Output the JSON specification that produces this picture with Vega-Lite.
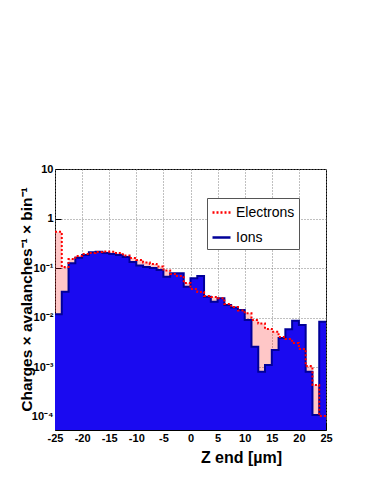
{
  "$schema": "https://vega.github.io/schema/vega-lite/v6.json",
  "width": 271,
  "height": 261,
  "autosize": "none",
  "padding": {"left": 55, "top": 169, "right": 48, "bottom": 54},
  "background": "white",
  "config": {
    "view": {"stroke": "black", "strokeWidth": 1},
    "font": "Liberation Sans"
  },
  "data": {
    "values": [
      {"z": -25, "Ions": 0.0117, "Electrons": 0.542},
      {"z": -23.75, "Ions": 0.0334, "Electrons": 0.105},
      {"z": -22.5, "Ions": 0.125, "Electrons": 0.152},
      {"z": -21.25, "Ions": 0.162, "Electrons": 0.175},
      {"z": -20, "Ions": 0.184, "Electrons": 0.192},
      {"z": -18.75, "Ions": 0.208, "Electrons": 0.201},
      {"z": -17.5, "Ions": 0.214, "Electrons": 0.211},
      {"z": -16.25, "Ions": 0.201, "Electrons": 0.215},
      {"z": -15, "Ions": 0.192, "Electrons": 0.214},
      {"z": -13.75, "Ions": 0.184, "Electrons": 0.201},
      {"z": -12.5, "Ions": 0.167, "Electrons": 0.18},
      {"z": -11.25, "Ions": 0.133, "Electrons": 0.16},
      {"z": -10, "Ions": 0.113, "Electrons": 0.146},
      {"z": -8.75, "Ions": 0.105, "Electrons": 0.13},
      {"z": -7.5, "Ions": 0.1, "Electrons": 0.121},
      {"z": -6.25, "Ions": 0.0914, "Electrons": 0.108},
      {"z": -5, "Ions": 0.067, "Electrons": 0.0894},
      {"z": -3.75, "Ions": 0.0785, "Electrons": 0.0759},
      {"z": -2.5, "Ions": 0.0785, "Electrons": 0.069},
      {"z": -1.25, "Ions": 0.0421, "Electrons": 0.05},
      {"z": 0, "Ions": 0.0622, "Electrons": 0.0378},
      {"z": 1.25, "Ions": 0.0692, "Electrons": 0.0329},
      {"z": 2.5, "Ions": 0.0264, "Electrons": 0.0273},
      {"z": 3.75, "Ions": 0.021, "Electrons": 0.026},
      {"z": 5, "Ions": 0.0245, "Electrons": 0.0245},
      {"z": 6.25, "Ions": 0.018, "Electrons": 0.0188},
      {"z": 7.5, "Ions": 0.0161, "Electrons": 0.0164},
      {"z": 8.75, "Ions": 0.01425, "Electrons": 0.014},
      {"z": 10, "Ions": 0.00895, "Electrons": 0.0122},
      {"z": 11.25, "Ions": 0.00259, "Electrons": 0.00895},
      {"z": 12.5, "Ions": 0.00081, "Electrons": 0.0076},
      {"z": 13.75, "Ions": 0.00111, "Electrons": 0.0059},
      {"z": 15, "Ions": 0.00222, "Electrons": 0.0052},
      {"z": 16.25, "Ions": 0.00388, "Electrons": 0.00406},
      {"z": 17.5, "Ions": 0.0058, "Electrons": 0.0037},
      {"z": 18.75, "Ions": 0.00867, "Electrons": 0.00308},
      {"z": 20, "Ions": 0.0071, "Electrons": 0.00233},
      {"z": 21.25, "Ions": 0.00081, "Electrons": 0.00105},
      {"z": 22.5, "Ions": 0.000108, "Electrons": 0.000437},
      {"z": 23.75, "Ions": 0.00828, "Electrons": 0.000103},
      {"z": 25, "Ions": 0.00828, "Electrons": 0.000103}
    ]
  },
  "transform": [{"fold": ["Ions", "Electrons"], "as": ["series", "v"]}],
  "encoding": {
    "x": {
      "field": "z",
      "type": "quantitative",
      "scale": {"domain": [-25, 25], "nice": false, "zero": false},
      "axis": {
        "values": [-25, -20, -15, -10, -5, 0, 5, 10, 15, 20, 25],
        "labelExpr": "'' + datum.value",
        "labelFlush": false,
        "labelOverlap": false,
        "labelFont": "Liberation Sans",
        "labelFontWeight": "bold",
        "labelFontSize": 11,
        "labelColor": "black",
        "labelPadding": 9,
        "tickSize": -7,
        "tickColor": "black",
        "domain": false,
        "grid": true,
        "gridColor": "#808080",
        "gridDash": [1, 2],
        "title": "Z end [µm]",
        "titleFont": "Liberation Sans",
        "titleFontSize": 16,
        "titleFontWeight": "bold",
        "titleColor": "black",
        "titleX": 186,
        "titleY": 27,
        "titleAlign": "center",
        "titleBaseline": "middle"
      }
    },
    "y": {
      "field": "v",
      "type": "quantitative",
      "scale": {"type": "log", "domain": [0.0000539, 10], "nice": false, "clamp": true},
      "axis": {
        "values": [0.0001, 0.001, 0.01, 0.1, 1, 10],
        "labelExpr": "datum.value > 5 ? '10' : datum.value > 0.5 ? '1' : datum.value > 0.05 ? '10⁻¹' : datum.value > 0.005 ? '10⁻²' : datum.value > 0.0005 ? '10⁻³' : '10⁻⁴'",
        "labelFlush": false,
        "labelOverlap": false,
        "labelFont": "Liberation Sans",
        "labelFontWeight": "bold",
        "labelFontSize": 11,
        "labelColor": "black",
        "labelPadding": 8,
        "tickSize": -6,
        "tickColor": "black",
        "domain": false,
        "grid": true,
        "gridColor": "#808080",
        "gridDash": [1, 2],
        "title": "Charges × avalanches⁻¹ × bin⁻¹",
        "titleFont": "Liberation Sans",
        "titleFontSize": 15.5,
        "titleFontWeight": "bold",
        "titleColor": "black",
        "titleX": -29,
        "titleY": 130,
        "titleAngle": 270,
        "titleAlign": "center",
        "titleBaseline": "middle"
      }
    }
  },
  "layer": [
    {
      "transform": [{"filter": "datum.series === 'Electrons'"}],
      "mark": {"type": "area", "interpolate": "step-after", "fill": "#ff0000", "fillOpacity": 0.22},
      "encoding": {"y2": {"datum": 0.0000539}}
    },
    {
      "transform": [{"filter": "datum.series === 'Ions'"}],
      "mark": {"type": "area", "interpolate": "step-after", "fill": "#1a0af0", "fillOpacity": 1},
      "encoding": {"y2": {"datum": 0.0000539}}
    },
    {
      "mark": {"type": "line", "interpolate": "step-after", "strokeWidth": 2},
      "encoding": {
        "color": {
          "field": "series",
          "type": "nominal",
          "scale": {"domain": ["Electrons", "Ions"], "range": ["#ff0000", "#000099"]},
          "legend": {
            "orient": "none",
            "legendX": 152,
            "legendY": 29,
            "title": null,
            "symbolType": "stroke",
            "symbolSize": 324,
            "symbolStrokeWidth": 2.5,
            "labelFont": "Liberation Sans",
            "labelFontSize": 14,
            "labelColor": "black",
            "labelOffset": 4,
            "labelExpr": "datum.label + '\u2003\u2003\u2002'",
            "strokeColor": "#555555",
            "fillColor": "white",
            "padding": 4,
            "rowPadding": 7,
            "cornerRadius": 0
          }
        },
        "strokeDash": {
          "field": "series",
          "type": "nominal",
          "scale": {"domain": ["Electrons", "Ions"], "range": [[2, 2], [1, 0]]},
          "legend": null
        }
      }
    }
  ]
}
